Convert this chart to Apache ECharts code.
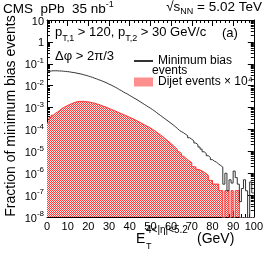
<!DOCTYPE html>
<html><head><meta charset="utf-8">
<script src="https://cdn.jsdelivr.net/npm/echarts@6/dist/echarts.min.js"></script>
<style>html,body{margin:0;padding:0;background:#fff}#c{width:266px;height:256px}</style>
</head><body><div id="c"></div>
<script>
// Bin width (GeV) of the histograms; bins start at 0
const binWidth = 1;
// Minimum bias events: fraction per 1-GeV bin, 0..100 GeV
const minBias = [
4.37e-2,4.68e-2,4.79e-2,4.79e-2,4.79e-2,4.68e-2,4.68e-2,4.57e-2,4.47e-2,4.37e-2,
4.27e-2,4.07e-2,3.98e-2,3.80e-2,3.63e-2,3.47e-2,3.31e-2,3.09e-2,2.95e-2,2.75e-2,
2.57e-2,2.40e-2,2.19e-2,2.04e-2,1.86e-2,1.74e-2,1.58e-2,1.45e-2,1.32e-2,1.17e-2,
1.07e-2,9.55e-3,8.51e-3,7.59e-3,6.61e-3,5.89e-3,5.13e-3,4.57e-3,4.07e-3,3.55e-3,
3.16e-3,2.75e-3,2.45e-3,2.14e-3,1.86e-3,1.62e-3,1.41e-3,1.23e-3,1.07e-3,9.33e-4,
8.13e-4,6.92e-4,5.89e-4,5.01e-4,4.27e-4,3.63e-4,3.09e-4,2.63e-4,2.24e-4,1.91e-4,
1.62e-4,1.35e-4,1.12e-4,9.12e-5,7.94e-5,7.08e-5,6.03e-5,5.25e-5,4.17e-5,3.55e-5,
3.02e-5,2.40e-5,2.00e-5,1.58e-5,1.26e-5,9.55e-6,7.94e-6,6.31e-6,5.25e-6,4.17e-6,
3.55e-6,3.16e-6,2.63e-6,2.24e-6,1.91e-6,3.16e-7,1.00e-6,1.58e-7,5.01e-7,3.55e-7,
1.26e-6,6.31e-7,3.16e-7,5.01e-8,2.00e-7,5.01e-7,1.58e-7,0,3.98e-7,1.26e-7];
// Dijet events (x 10^4): fraction per 1-GeV bin
const dijet = [
2.0e-4,3.55e-4,4.47e-4,5.37e-4,6.17e-4,7.24e-4,8.71e-4,1.0e-3,1.12e-3,1.26e-3,
1.38e-3,1.51e-3,1.66e-3,1.78e-3,1.86e-3,1.91e-3,1.91e-3,1.91e-3,1.86e-3,1.82e-3,
1.74e-3,1.66e-3,1.58e-3,1.48e-3,1.38e-3,1.29e-3,1.17e-3,1.10e-3,1.0e-3,9.12e-4,
8.32e-4,7.59e-4,6.92e-4,6.31e-4,5.75e-4,5.25e-4,4.79e-4,4.37e-4,3.98e-4,3.55e-4,
3.24e-4,2.95e-4,2.63e-4,2.34e-4,2.09e-4,1.86e-4,1.66e-4,1.48e-4,1.32e-4,1.17e-4,
1.02e-4,8.91e-5,7.59e-5,6.46e-5,5.50e-5,4.68e-5,3.89e-5,3.24e-5,2.69e-5,2.24e-5,
1.86e-5,1.51e-5,1.23e-5,9.55e-6,7.94e-6,6.03e-6,5.01e-6,4.17e-6,3.55e-6,3.02e-6,
2.0e-6,1.91e-6,1.51e-6,1.41e-6,1.26e-6,1.12e-6,9.5e-7,7.9e-7,4.7e-7,4.7e-7,
3.2e-7,3.2e-7,3.2e-7,1.6e-7,1.6e-7,0,1.6e-7,1.6e-7,0,1.6e-7,
0,1.6e-7,1.6e-7,0,0,0,0,0,0,0];
// Axis ranges
const xMin = 0, xMax = 100, xStep = 10;
const yMin = 1e-8, yMax = 10;

const FONT = '"Liberation Sans", Arial, Helvetica, sans-serif';

function histData(vals) {
  const d = vals.map((v, i) => [i * binWidth, v > 0 ? v : 1e-12]);
  const last = vals[vals.length - 1];
  d.push([vals.length * binWidth, last > 0 ? last : 1e-12]);
  return d;
}
function checker() {
  const c = document.createElement('canvas');
  c.width = 2; c.height = 2;
  const g = c.getContext('2d');
  g.fillStyle = '#ffe4e4'; g.fillRect(0, 0, 2, 2);
  g.fillStyle = '#ff3a3a'; g.fillRect(0, 0, 1, 1); g.fillRect(1, 1, 1, 1);
  return c;
}
const pat = { image: checker(), repeat: 'repeat' };

const chart = echarts.init(document.getElementById('c'), null, { renderer: 'canvas' });

const axisCommon = {
  axisLine: { show: true, onZero: false, lineStyle: { color: '#000', width: 1 } },
  axisTick: { show: true, inside: true, length: 6, lineStyle: { color: '#000' } },
  splitLine: { show: false },
  minorSplitLine: { show: false }
};
function yLabel(v) {
  const e = Math.round(Math.log10(v));
  if (e === 1) return '{b|10}';
  if (e === 0) return '{b|1}';
  return '{b|10}{s|' + e + '}';
}
const yRich = {
  b: { fontSize: 11, fontFamily: FONT, color: '#000', verticalAlign: 'bottom', lineHeight: 14 },
  s: { fontSize: 8, fontFamily: FONT, color: '#000', verticalAlign: 'top', lineHeight: 14 }
};
const minorX = { show: true, splitNumber: 5, length: 3, lineStyle: { color: '#000' } };
const minorY = { show: true, splitNumber: 9, length: 3, lineStyle: { color: '#000' } };

chart.setOption({
  animation: false,
  backgroundColor: '#fff',
  grid: { left: 47, right: 8, top: 20, bottom: 39, containLabel: false },
  xAxis: [
    Object.assign({}, axisCommon, {
      type: 'value', min: xMin, max: xMax, interval: xStep, position: 'bottom', minorTick: minorX,
      axisLabel: { margin: 4, fontSize: 11, fontFamily: FONT, color: '#000', showMaxLabel: true }
    }),
    Object.assign({}, axisCommon, {
      type: 'value', min: xMin, max: xMax, interval: xStep, position: 'top', minorTick: minorX,
      axisLabel: { show: false }
    })
  ],
  yAxis: [
    Object.assign({}, axisCommon, {
      type: 'log', logBase: 10, min: yMin, max: yMax, interval: 1, position: 'left', minorTick: minorY,
      axisLabel: { margin: 3, formatter: yLabel, rich: yRich }
    }),
    Object.assign({}, axisCommon, {
      type: 'log', logBase: 10, min: yMin, max: yMax, interval: 1, position: 'right', minorTick: minorY,
      axisLabel: { show: false }
    })
  ],
  legend: {
    orient: 'vertical', left: 128, top: 50, itemWidth: 19, itemHeight: 9, itemGap: 9,
    selectedMode: false,
    textStyle: { fontFamily: FONT, fontSize: 12, color: '#000' },
    data: [
      { name: 'Minimum bias', itemStyle: { opacity: 0 } },
      { name: 'Dijet events \u00d7 10\u2074', icon: 'rect', itemStyle: { color: pat } }
    ]
  },
  series: [
    {
      name: 'Dijet events \u00d7 10\u2074', type: 'line', step: 'end', symbol: 'none', showSymbol: false, clip: true,
      data: histData(dijet),
      lineStyle: { color: '#ff3030', width: 1 },
      itemStyle: { color: '#ff3030' },
      areaStyle: { color: pat, opacity: 1, origin: 'start' },
      z: 2
    },
    {
      name: 'Minimum bias', type: 'line', step: 'end', symbol: 'none', showSymbol: false, clip: true,
      data: histData(minBias),
      lineStyle: { color: '#333', width: 1 },
      itemStyle: { color: '#333' },
      z: 3
    }
  ],
  graphic: [
    { type: 'text', left: 3, top: 0, style: { text: '{a|CMS  pPb  35 nb}{s|-1}', rich: {
        a: { fontFamily: FONT, fontSize: 13.5, fill: '#000', verticalAlign: 'bottom', lineHeight: 16 },
        s: { fontFamily: FONT, fontSize: 9, fill: '#000', verticalAlign: 'top', lineHeight: 16 } } } },
    { type: 'text', right: 4, top: 0, style: { text: '{a|\u221As}{u|NN}{a| = 5.02 TeV}', rich: {
        a: { fontFamily: FONT, fontSize: 13.5, fill: '#000', verticalAlign: 'top', lineHeight: 16 },
        u: { fontFamily: FONT, fontSize: 9, fill: '#000', verticalAlign: 'bottom', lineHeight: 16 } } } },
    { type: 'text', left: 55, top: 26, style: { text: '{a|p}{u|T,1}{a| > 120, p}{u|T,2}{a| > 30 GeV/c}', rich: {
        a: { fontFamily: FONT, fontSize: 13, fill: '#000', verticalAlign: 'top', lineHeight: 17 },
        u: { fontFamily: FONT, fontSize: 9, fill: '#000', verticalAlign: 'bottom', lineHeight: 17 } } } },
    { type: 'text', left: 222, top: 27, style: { text: '(a)', fontFamily: FONT, fontSize: 13, fill: '#000' } },
    { type: 'text', left: 55, top: 50, style: { text: '\u0394\u03c6 > 2\u03c0/3', fontFamily: FONT, fontSize: 13, fill: '#000' } },
    { type: 'text', left: 152, top: 65, style: { text: 'events', fontFamily: FONT, fontSize: 12, fill: '#000' } },
    { type: 'text', x: 4, y: 116, rotation: Math.PI / 2, style: { text: 'Fraction of minimum bias events',
        fontFamily: FONT, fontSize: 14, fill: '#000', align: 'center', verticalAlign: 'top' } },
    { type: 'text', left: 136, top: 232, style: { text: 'E', fontFamily: FONT, fontSize: 14, fill: '#000' } },
    { type: 'text', left: 146, top: 225, style: { text: '4<|\u03b7|<5.2', fontFamily: FONT, fontSize: 10, fill: '#000' } },
    { type: 'text', left: 146, top: 242, style: { text: 'T', fontFamily: FONT, fontSize: 9, fill: '#000' } },
    { type: 'text', left: 197, top: 232, style: { text: '(GeV)', fontFamily: FONT, fontSize: 14, fill: '#000' } }
  ]
});
</script>
</body></html>
